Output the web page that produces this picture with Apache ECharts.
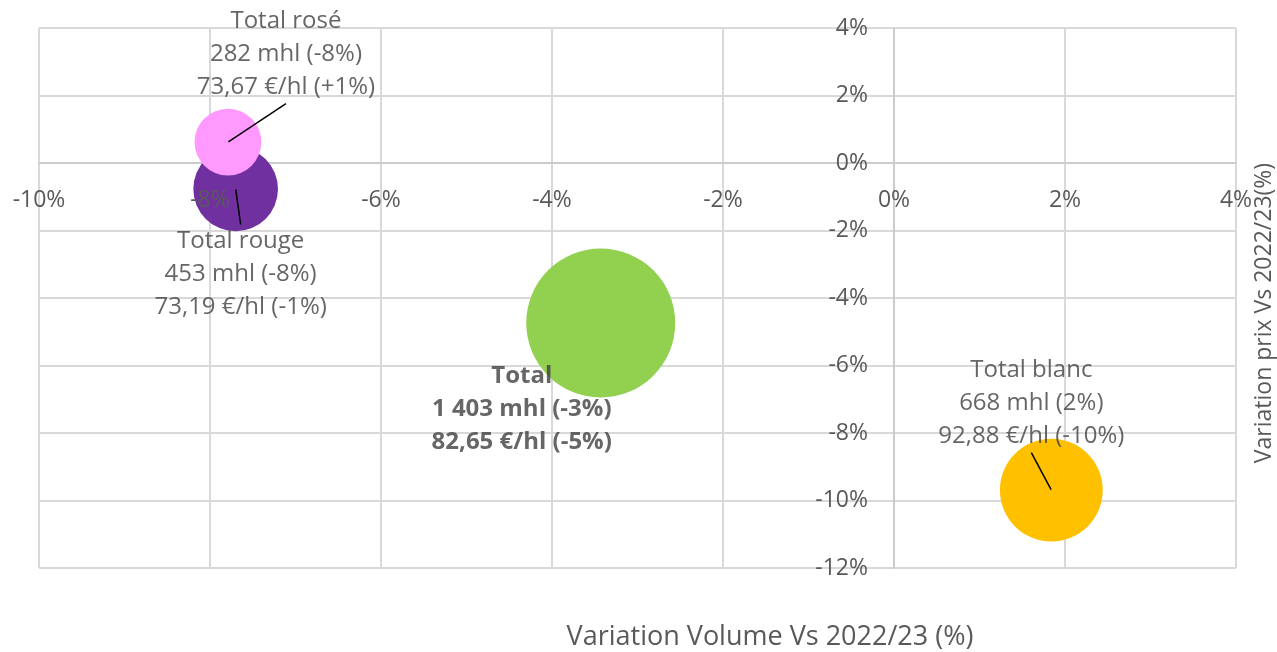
<!DOCTYPE html>
<html>
<head>
<meta charset="utf-8">
<script src="https://cdn.jsdelivr.net/npm/echarts@6/dist/echarts.min.js"></script>
<style>
  html, body { margin: 0; padding: 0; background: #fff; }
  #main { width: 1277px; height: 652px; }
</style>
</head>
<body>
<div id="main"></div>
<script>
// données
var names = ["Total", "Total blanc", "Total rouge", "Total rosé"];
var volumes = [1403, 668, 453, 282];           // mhl
var volumeVar = [-3.43, 1.84, -7.70, -7.79];    // % vs 2022/23
var priceVar = [-4.74, -9.69, -0.77, 0.62];     // % vs 2022/23
var prices = ["82,65", "92,88", "73,19", "73,67"]; // €/hl
var colors = ["#92D050", "#FFC000", "#7030A0", "#FF99FF"];
var xTicks = [-10, -8, -6, -4, -2, 0, 2, 4];
var yTicks = [-12, -10, -8, -6, -4, -2, 0, 2, 4];

// décalage des étiquettes (px) par rapport au centre de la bulle
var labelShift = [[-79, 86], [-20, -87], [5, 85], [58, -88]];

var FONT = "'Open Sans'";
var FS = 23;
var maxVol = Math.max.apply(null, volumes);

var W = 1277, H = 652;
var gridPos = { left: 39, right: 41, top: 28, bottom: 84, outerBoundsMode: "none", containLabel: false };
var xMin = xTicks[0], xMax = xTicks[xTicks.length - 1];
var yMin = yTicks[0], yMax = yTicks[yTicks.length - 1];
// axes croisés en 0 (décalage vers l'intérieur de la grille)
var gw = W - gridPos.left - gridPos.right;
var gh = H - gridPos.top - gridPos.bottom;
var yAxisShift = -gw * (0 - xMin) / (xMax - xMin);
var xAxisShift = -gh * (0 - yMin) / (yMax - yMin);

function fmtVol(v) {
  return String(v).replace(/\B(?=(\d{3})+(?!\d))/g, " ");
}
function pct(v, plus) {
  var r = Math.round(v);
  return (plus && r > 0 ? "+" : "") + r + "%";
}

var points = names.map(function (n, i) {
  return { name: n, value: [volumeVar[i], priceVar[i], volumes[i]], itemStyle: { color: colors[i] } };
});

// points au centre des bulles, qui portent les étiquettes et les traits de rappel
var labelPoints = names.map(function (n, i) {
  return {
    name: n,
    value: [volumeVar[i], priceVar[i], volumes[i]],
    label: {
      formatter: n + "\n" + fmtVol(volumes[i]) + " mhl (" + pct(volumeVar[i]) + ")\n" +
        prices[i] + " €/hl (" + pct(priceVar[i], true) + ")",
      fontWeight: n === "Total" ? "bold" : "normal"
    },
    labelLine: { show: n !== "Total" }
  };
});

var chart = echarts.init(document.getElementById("main"));

var option = {
  animation: false,
  textStyle: { fontFamily: FONT },
  grid: [
    Object.assign({}, gridPos),
    Object.assign({}, gridPos)
  ],
  xAxis: [
    {
      type: "value", gridIndex: 0, position: "bottom", offset: xAxisShift,
      min: xMin, max: xMax, interval: 2,
      axisLine: { onZero: false, lineStyle: { color: "#cccccc", width: 2 } },
      axisTick: { show: false },
      axisLabel: { show: false },
      splitLine: { show: true, lineStyle: { color: "#d9d9d9", width: 2 } }
    },
    {
      // étiquettes au-dessus des bulles
      type: "value", gridIndex: 1, z: 10, position: "bottom", offset: xAxisShift,
      min: xMin, max: xMax, interval: 2,
      axisLine: { show: false, onZero: false },
      axisTick: { show: false },
      splitLine: { show: false },
      axisLabel: {
        margin: 26, color: "#595959", fontSize: FS, fontFamily: FONT,
        showMinLabel: true, showMaxLabel: true,
        formatter: function (v) { return v + "%"; }
      }
    }
  ],
  yAxis: [
    {
      type: "value", gridIndex: 0, position: "left", offset: yAxisShift,
      min: yMin, max: yMax, interval: 2,
      axisLine: { show: true, onZero: false, lineStyle: { color: "#cccccc", width: 2 } },
      axisTick: { show: false },
      axisLabel: {
        margin: 26, color: "#595959", fontSize: FS, fontFamily: FONT,
        showMinLabel: true, showMaxLabel: true,
        formatter: function (v) { return v + "%"; }
      },
      splitLine: { show: true, lineStyle: { color: "#d9d9d9", width: 2 } }
    },
    {
      type: "value", gridIndex: 1,
      min: yMin, max: yMax, interval: 2,
      axisLine: { show: false, onZero: false },
      axisTick: { show: false },
      axisLabel: { show: false }, splitLine: { show: false }
    }
  ],
  graphic: [
    {
      type: "text", x: 770, y: 637,
      style: {
        text: "Variation Volume Vs 2022/23 (%)", fill: "#595959", font: "27px " + FONT,
        align: "center", verticalAlign: "middle"
      }
    },
    {
      type: "text", x: 1264, y: 313, rotation: Math.PI / 2,
      style: {
        text: "Variation prix Vs 2022/23(%)", fill: "#595959", font: FS + "px " + FONT,
        align: "center", verticalAlign: "middle"
      }
    }
  ],
  series: [
    {
      type: "scatter",
      xAxisIndex: 0, yAxisIndex: 0,
      data: points,
      symbolSize: function (val) {
        return 149 * Math.sqrt(val[2] / maxVol);
      },
      itemStyle: { opacity: 1 },
      emphasis: { disabled: true }
    },
    {
      type: "scatter",
      xAxisIndex: 0, yAxisIndex: 0, z: 4,
      data: labelPoints,
      symbolSize: 1,
      itemStyle: { color: "rgba(0,0,0,0)" },
      label: {
        show: true, position: "inside",
        color: "#404040", fontSize: 24, lineHeight: 33, fontFamily: FONT, align: "center"
      },
      labelLine: { show: true, lineStyle: { color: "#000", width: 1.5 } },
      labelLayout: function (p) {
        var s = labelShift[p.dataIndex];
        return { dx: s[0], dy: s[1] };
      },
      emphasis: { disabled: true }
    }
  ]
};

chart.setOption(option);
</script>
</body>
</html>
